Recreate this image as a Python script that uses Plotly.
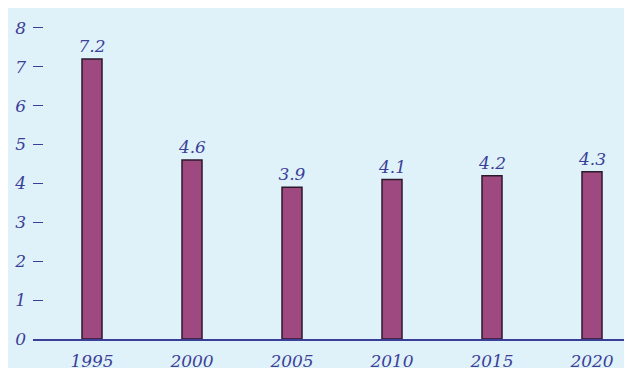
import plotly.graph_objects as go

years = [1995, 2000, 2005, 2010, 2015, 2020]
values = [7.2, 4.6, 3.9, 4.1, 4.2, 4.3]
value_labels = ["7.2", "4.6", "3.9", "4.1", "4.2", "4.3"]
y_ticks = [0, 1, 2, 3, 4, 5, 6, 7, 8]

TXT = "#3b3f98"
BG = "#e0f2f9"
FONT = "DejaVu Serif"

W, H = 624, 363
ml, mr, mt, mb = 25, 0, 0, 29
pw, ph = W - ml - mr, H - mt - mb

fig = go.Figure()
fig.add_trace(go.Bar(
    x=years, y=values, width=1,
    marker=dict(color="#9e4a80", line=dict(color="#2b1a2b", width=1.5)),
    text=value_labels, textposition="outside", cliponaxis=False,
    constraintext="none",
    textfont=dict(family=FONT, size=17, color=TXT, style="italic"),
))

fig.update_layout(
    width=W, height=H,
    margin=dict(l=ml, r=mr, t=mt, b=mb),
    paper_bgcolor=BG, plot_bgcolor=BG,
    showlegend=False,
    font=dict(family=FONT, color=TXT),
    xaxis=dict(range=[1992.05, 2022], tickmode="array", tickvals=years,
               ticktext=[str(y) for y in years],
               showgrid=False, zeroline=False, showline=True,
               linecolor=TXT, linewidth=1.5, ticks="",
               tickfont=dict(family=FONT, size=17, color=TXT, style="italic"),
               ticklabelstandoff=6),
    yaxis=dict(range=[0, ph / 39.25], tickmode="array", tickvals=y_ticks,
               showgrid=False, zeroline=False, showline=False,
               ticks="inside", ticklen=10, tickwidth=1.2, tickcolor=TXT,
               tickfont=dict(family=FONT, size=17, color=TXT, style="italic"),
               ticklabelstandoff=6),
)

fig.write_html("out.html")
